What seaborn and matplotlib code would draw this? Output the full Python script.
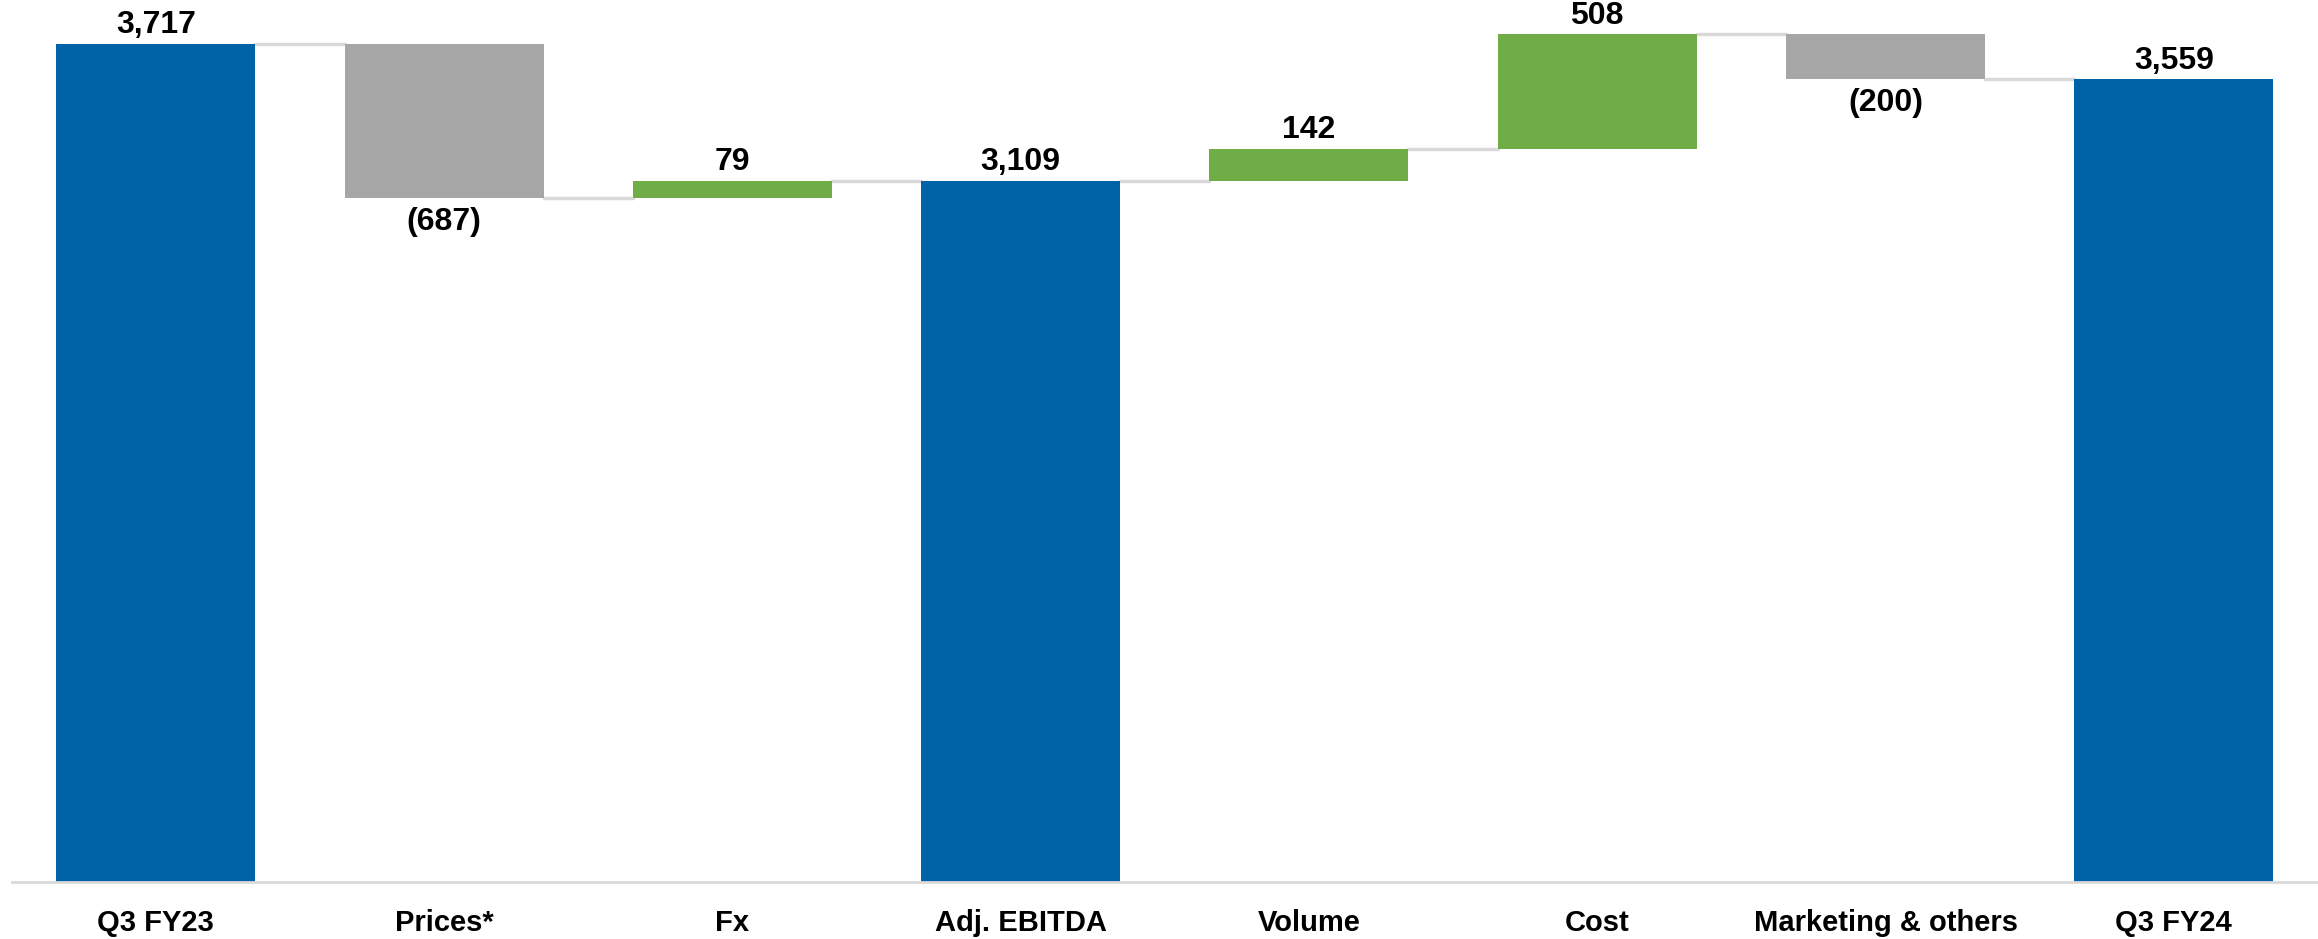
import matplotlib.pyplot as plt
import seaborn as sns
import pandas as pd

# Waterfall: Q3 FY23 -> Q3 FY24 (values in millions)
categories = ["Q3 FY23", "Prices*", "Fx", "Adj. EBITDA", "Volume", "Cost",
              "Marketing & others", "Q3 FY24"]
values = [3717, -687, 79, 3109, 142, 508, -200, 3559]
is_total = [True, False, False, True, False, False, False, True]

BLUE, GREY, GREEN = "#0063A8", "#A6A6A6", "#70AD47"

# running bottoms/heights for the floating bars
bottoms, heights, colors = [], [], []
level = 0
for v, tot in zip(values, is_total):
    if tot:
        bottoms.append(0)
        heights.append(v)
        colors.append(BLUE)
        level = v
    else:
        if v >= 0:
            bottoms.append(level)
            heights.append(v)
            colors.append(GREEN)
        else:
            bottoms.append(level + v)
            heights.append(-v)
            colors.append(GREY)
        level += v

df = pd.DataFrame({"cat": categories, "height": heights, "bottom": bottoms})

sns.set_style("white")
plt.rcParams["font.family"] = ["Liberation Sans Narrow", "Liberation Sans", "DejaVu Sans"]
plt.rcParams["text.color"] = "black"
plt.rcParams["xtick.color"] = "black"

fig = plt.figure(figsize=(23.18, 9.39), dpi=100)
ax = fig.add_axes([0.005, 0.061, 0.995, 0.939])

sns.barplot(data=df, x="cat", y="height", bottom=df["bottom"].values,
            color=BLUE, width=0.69, saturation=1, ax=ax,
            edgecolor="none", zorder=2)
for patch, c in zip(ax.patches, colors):
    patch.set_facecolor(c)

# connector lines between bars
half = 0.69 / 2
for i in range(len(categories) - 1):
    y = bottoms[i] + heights[i] if values[i] >= 0 else bottoms[i]
    ax.plot([i + half, i + 1 - half], [y, y], color="#D9D9D9", lw=2.5, zorder=1)

# value labels
for i, v in enumerate(values):
    top = bottoms[i] + heights[i]
    if v >= 0:
        ax.text(i, top + 15, f"{v:,}", ha="center", va="bottom",
                fontsize=23, fontweight="bold")
    else:
        ax.text(i, bottoms[i] - 40, f"({-v:,})", ha="center", va="top",
                fontsize=23, fontweight="bold")

ax.set_xlim(-0.5, 7.5)
ax.set_ylim(0, 3910)
ax.set_yticks([])
ax.set_xlabel("")
ax.set_ylabel("")
for s in ["top", "right", "left"]:
    ax.spines[s].set_visible(False)
ax.spines["bottom"].set_color("#D9D9D9")
ax.spines["bottom"].set_linewidth(2)
ax.tick_params(axis="x", length=0, pad=20, labelsize=21)
for lab in ax.get_xticklabels():
    lab.set_fontweight("bold")

fig.savefig("out.png", dpi=100)
